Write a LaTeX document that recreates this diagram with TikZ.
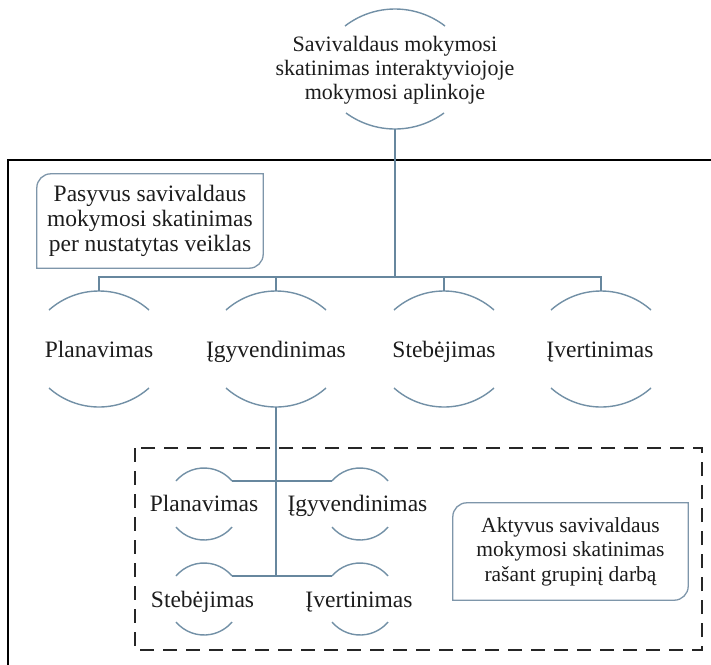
\documentclass[tikz,border=0pt]{standalone}
\usepackage{fontspec}
\setmainfont{Liberation Serif}

\definecolor{linkblue}{HTML}{67879E}
\definecolor{ringblue}{HTML}{7290A6}
\definecolor{boxedge}{HTML}{7E96AA}
\definecolor{inktext}{HTML}{1C1C1C}

% arc above a label: centre x, apex y, end y, half width (y measured downwards)
\newcommand\ringtop[4]{%
  \pgfmathsetmacro\ringsag{#3-#2}%
  \pgfmathsetmacro\ringrad{(#4*#4+\ringsag*\ringsag)/(2*\ringsag)}%
  \pgfmathsetmacro\ringang{asin(#4/\ringrad)}%
  \draw[ring] (#1-#4,-#3) arc[start angle=90+\ringang, end angle=90-\ringang, radius=\ringrad];}
% arc below a label: centre x, end y, apex y, half width
\newcommand\ringbot[4]{%
  \pgfmathsetmacro\ringsag{#3-#2}%
  \pgfmathsetmacro\ringrad{(#4*#4+\ringsag*\ringsag)/(2*\ringsag)}%
  \pgfmathsetmacro\ringang{asin(#4/\ringrad)}%
  \draw[ring] (#1-#4,-#2) arc[start angle=270-\ringang, end angle=270+\ringang, radius=\ringrad];}
% frame around a note, rounded at top left and bottom right
\newcommand\notebox[2]{%
  \draw[boxline] (#1.north east) -- ([xshift=#2pt]#1.north west)
    arc[start angle=90, end angle=180, radius=#2]
    -- (#1.south west) -- ([xshift=-#2pt]#1.south east)
    arc[start angle=270, end angle=360, radius=#2] -- cycle;}

\begin{document}
\begin{tikzpicture}[x=1pt, y=1pt,
  every node/.style={inner sep=0pt, text=inktext},
  bigtext/.style={font=\fontsize{22}{24}\selectfont, align=center},
  lbl/.style={font=\fontsize{23.5}{25}\selectfont, anchor=base},
  notetext/.style={align=center},
  ring/.style={draw=ringblue, line width=1.4pt},
  conn/.style={draw=linkblue, line width=1.8pt},
  boxline/.style={draw=boxedge, line width=1.3pt},
  frame/.style={draw=black, line width=1.6pt},
  dashframe/.style={draw=black!85, line width=1.3pt, dash pattern=on 14pt off 9pt}]

\useasboundingbox (0,0) rectangle (711,-664);
\clip (0,0) rectangle (711,-664);
\fill[white] (0,0) rectangle (711,-664);

% outer frame (runs past the right and bottom edges)
\coordinate (fr-bl) at (8,-680);
\coordinate (fr-tl) at (8,-160);
\coordinate (fr-tr) at (730,-160);
\draw[frame] (fr-bl) -- (fr-tl) -- (fr-tr);

% dashed frame of the group-work part
\coordinate (dz-nw) at (135,-448);
\coordinate (dz-se) at (702,-650);
\draw[dashframe] (dz-nw) rectangle (dz-se);

% root
\node[bigtext] (root) at (395,-70) {Savivaldaus mokymosi\\skatinimas interaktyviojoje\\mokymosi aplinkoje};
\ringtop{395}{9}{26}{50}
\ringbot{395}{113}{129}{49}
\coordinate (root-bot) at (395,-129);

% notes
\node[notetext, font=\fontsize{23.5}{25}\selectfont, minimum width=226pt, minimum height=94pt]
  (pasyv) at (150,-221) {Pasyvus savivaldaus\\mokymosi skatinimas\\per nustatytas veiklas};
\notebox{pasyv}{14}
\node[notetext, font=\fontsize{21.5}{24.5}\selectfont, minimum width=235pt, minimum height=97pt]
  (aktyv) at (570.5,-551.5) {Aktyvus savivaldaus\\mokymosi skatinimas\\rašant grupinį darbą};
\notebox{aktyv}{14}

% stages of self-regulated learning
\node[lbl] (n1) at (99,-357) {Planavimas};
\node[lbl] (n2) at (276,-357) {Įgyvendinimas};
\node[lbl] (n3) at (444,-357) {Stebėjimas};
\node[lbl] (n4) at (600,-357) {Įvertinimas};
\foreach \cx in {99,276,444,601}{
  \ringtop{\cx}{291}{310}{50}
  \ringbot{\cx}{388}{407}{50}
}
\coordinate (n1-top) at (99,-291);
\coordinate (n2-top) at (276,-291);
\coordinate (n3-top) at (444,-291);
\coordinate (n4-top) at (601,-291);
\coordinate (n2-bot) at (276,-407);

% branching from the root
\coordinate (bus) at (0,-277);
\draw[conn] (root-bot) -- (root-bot |- bus);
\draw[conn] (n1-top) -- (n1-top |- bus) -- (n4-top |- bus) -- (n4-top);
\draw[conn] (n2-top) -- (n2-top |- bus);
\draw[conn] (n3-top) -- (n3-top |- bus);

% stages inside the group work
\node[lbl] (m1) at (204,-511) {Planavimas};
\node[lbl] (m2) at (357.5,-511) {Įgyvendinimas};
\node[lbl] (m3) at (202.5,-607) {Stebėjimas};
\node[lbl] (m4) at (359,-607) {Įvertinimas};
\foreach \cx in {204,360}{
  \ringtop{\cx}{468}{481}{28}
  \ringbot{\cx}{527}{540}{28}
  \ringtop{\cx}{563}{576}{28}
  \ringbot{\cx}{622}{635}{28}
}
\coordinate (m1-r) at (232,-481);
\coordinate (m2-l) at (332,-481);
\coordinate (m3-r) at (232,-576);
\coordinate (m4-l) at (332,-576);
\draw[conn] (m1-r) -- (m2-l);
\draw[conn] (m3-r) -- (m4-l);
\draw[conn] (n2-bot) -- (n2-bot |- m3-r);

\end{tikzpicture}
\end{document}
